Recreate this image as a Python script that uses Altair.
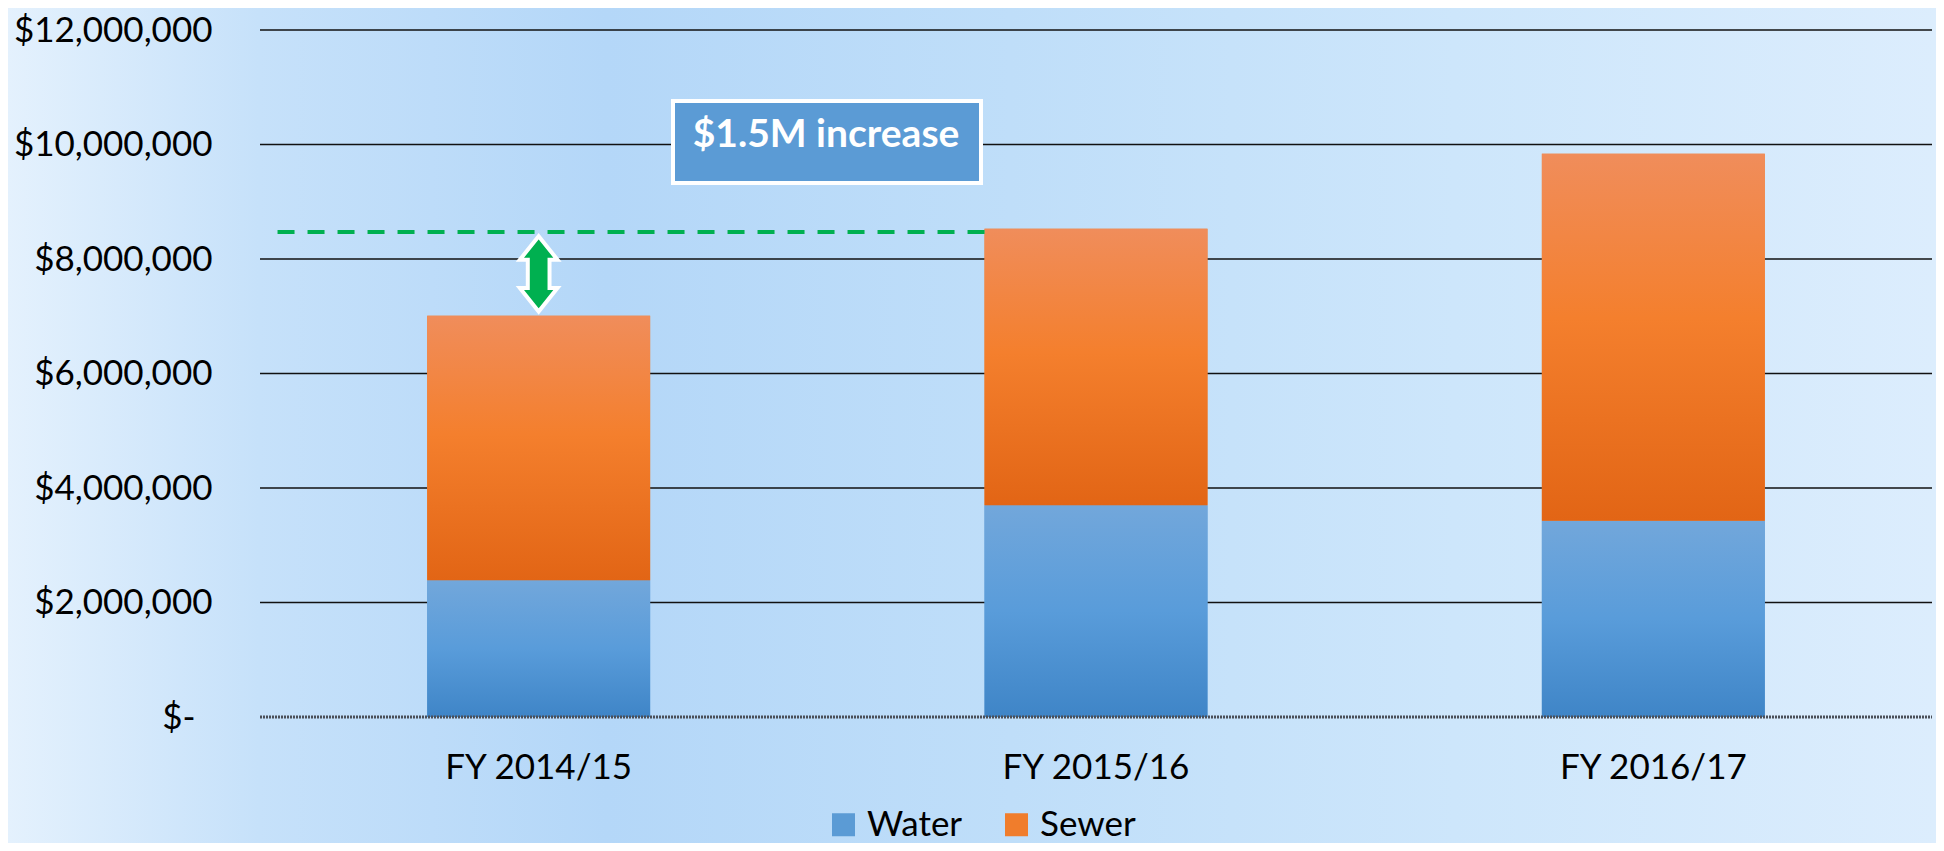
import altair as alt
import pandas as pd

# ---------------- data ----------------
CATEGORIES = ["FY 2014/15", "FY 2015/16", "FY 2016/17"]
SERIES = ["Water", "Sewer"]
WATER = [2_390_000, 3_700_000, 3_430_000]
SEWER = [4_620_000, 4_830_000, 6_410_000]
Y_TICKS = [0, 2_000_000, 4_000_000, 6_000_000, 8_000_000, 10_000_000, 12_000_000]
DASH_LEVEL = 8_470_000          # level of FY 2015/16 total, dashed reference
ANNOT_LABEL = ["$1.5M increase"]

# ---------------- layout ----------------
PLOT_W, PLOT_H = 1672, 687
PAD = {"left": 252, "top": 22, "right": 4, "bottom": 126}
Y_MAX = 12_000_000
FONT = "Lato"
FS = 35

rows = []
for c, w, s in zip(CATEGORIES, WATER, SEWER):
    rows.append({"year": c, "series": "Water", "y0": 0, "y1": w})
    rows.append({"year": c, "series": "Sewer", "y0": w, "y1": w + s})
bars_df = pd.DataFrame(rows)

x_scale = alt.Scale(domain=CATEGORIES, paddingInner=0.6, paddingOuter=0.3)
y_scale = alt.Scale(domain=[0, Y_MAX], nice=False, zero=True)

y_axis = alt.Axis(
    values=Y_TICKS, grid=False, domain=False, ticks=False, title=None, zindex=2,
    labelExpr="datum.value == 0 ? '$-' : format(datum.value, '$,.0f')",
    labelFont=FONT, labelFontSize=FS, labelColor="black",
    labelPadding={"condition": {"test": "datum.value == 0", "value": 65}, "value": 48},
    labelLimit=400,
)
x_axis = alt.Axis(
    domain=False, ticks=False, title=None, labelFont=FONT, labelFontSize=FS, zindex=2,
    labelColor="black", labelPadding=33, labelAngle=0, labelLimit=400,
)

# background gradient panel
bg = alt.Chart(pd.DataFrame({"a": [0]})).mark_rect(
    color=alt.Gradient(
        gradient="linear", x1=0, x2=1, y1=0, y2=0,
        stops=[
            alt.GradientStop(offset=0.0, color="#E4F1FD"),
            alt.GradientStop(offset=0.13, color="#C6E1FA"),
            alt.GradientStop(offset=0.31, color="#B4D7F8"),
            alt.GradientStop(offset=0.52, color="#BFDEF9"),
            alt.GradientStop(offset=0.75, color="#CDE6FB"),
            alt.GradientStop(offset=1.0, color="#DCEDFD"),
        ],
    )
).encode(
    x=alt.value(-PAD["left"]), x2=alt.value(PLOT_W + PAD["right"]),
    y=alt.value(-PAD["top"]), y2=alt.value(PLOT_H + PAD["bottom"]),
)

grid = alt.Chart(pd.DataFrame({"tick": Y_TICKS[1:]})).mark_rule(
    color="#111111", strokeWidth=1.6
).encode(
    y=alt.Y("tick:Q", scale=y_scale),
    x=alt.value(0), x2=alt.value(PLOT_W),
)

legend_bars = alt.Chart(bars_df).mark_bar().encode(
    x=alt.X("year:N", scale=x_scale, axis=x_axis, sort=CATEGORIES),
    y=alt.Y("y1:Q", scale=y_scale, axis=y_axis),
    y2="y0:Q",
    color=alt.Color(
        "series:N",
        scale=alt.Scale(domain=SERIES, range=["#5B9BD5", "#F07D2C"]),
        legend=alt.Legend(
            title=None, orient="none", direction="horizontal",
            legendX=566, legendY=777, symbolType="square", symbolSize=529,
            symbolStrokeWidth=0, labelFont=FONT, labelFontSize=FS,
            labelColor="black", labelOffset=6, columnPadding=36, padding=0,
            labelLimit=400,
        ),
    ),
)

def grad_bars(series, stops):
    return alt.Chart(bars_df).transform_filter(
        alt.datum.series == series
    ).mark_bar(
        color=alt.Gradient(
            gradient="linear", x1=0, x2=0, y1=0, y2=1,
            stops=[alt.GradientStop(offset=o, color=c) for o, c in stops],
        )
    ).encode(
        x=alt.X("year:N", scale=x_scale, sort=CATEGORIES),
        y=alt.Y("y1:Q", scale=y_scale),
        y2="y0:Q",
    )

water_bars = grad_bars("Water", [(0, "#72A7DB"), (0.5, "#599CDA"), (1, "#3F85C7")])
sewer_bars = grad_bars("Sewer", [(0, "#F08D5B"), (0.45, "#F47F2D"), (1, "#E26515")])

baseline = alt.Chart(pd.DataFrame({"z": [0]})).mark_rule(
    color="#4a4f58", strokeWidth=3, strokeDash=[2, 1]
).encode(
    y=alt.Y("z:Q", scale=y_scale), x=alt.value(0), x2=alt.value(PLOT_W),
)

dash_df = pd.DataFrame({"year": [CATEGORIES[1]], "level": [DASH_LEVEL]})
dashed = alt.Chart(dash_df).mark_rule(
    color="#00B050", strokeWidth=4, strokeDash=[17, 13]
).encode(
    x=alt.X("year:N", scale=x_scale, sort=CATEGORIES, bandPosition=0),
    x2=alt.value(6),
    y=alt.Y("level:Q", scale=y_scale),
)

total1 = WATER[0] + SEWER[0]
arrow_len_px = (DASH_LEVEL - total1) / Y_MAX * PLOT_H
arrow_df = pd.DataFrame({"year": [CATEGORIES[0]], "mid": [(DASH_LEVEL + total1) / 2]})
ARROW_PATH = ("M0,-0.9 L0.45,-0.34 L0.26,-0.34 L0.26,0.34 L0.45,0.34 L0,0.9 "
              "L-0.45,0.34 L-0.26,0.34 L-0.26,-0.34 L-0.45,-0.34 Z")
arrow = alt.Chart(arrow_df).mark_point(
    shape=ARROW_PATH, filled=True, fill="#00B050", stroke="white",
    strokeWidth=4, opacity=1, size=arrow_len_px ** 2, strokeJoin="miter",
).encode(
    x=alt.X("year:N", scale=x_scale, sort=CATEGORIES),
    y=alt.Y("mid:Q", scale=y_scale),
)

annot_df = pd.DataFrame({"label": ANNOT_LABEL})
annot_box = alt.Chart(annot_df).mark_rect(
    fill="#5B9BD5", stroke="white", strokeWidth=4
).encode(
    x=alt.value(413), x2=alt.value(721), y=alt.value(71), y2=alt.value(153),
)
annot_text = alt.Chart(annot_df).mark_text(
    font=FONT, fontWeight="bold", fontSize=39, color="white",
    align="center", baseline="middle",
).encode(
    x=alt.value(566), y=alt.value(105), text="label:N",
)

chart = alt.layer(
    bg, grid, legend_bars, water_bars, sewer_bars, baseline, dashed, arrow,
    annot_box, annot_text,
).properties(
    width=PLOT_W, height=PLOT_H, padding=PAD,
    autosize=alt.AutoSizeParams(type="none"),
).configure(
    background="#CFE6FA",
).configure_view(
    stroke=None,
)

chart.save("out.html", embed_options={"renderer": "svg", "actions": False})
